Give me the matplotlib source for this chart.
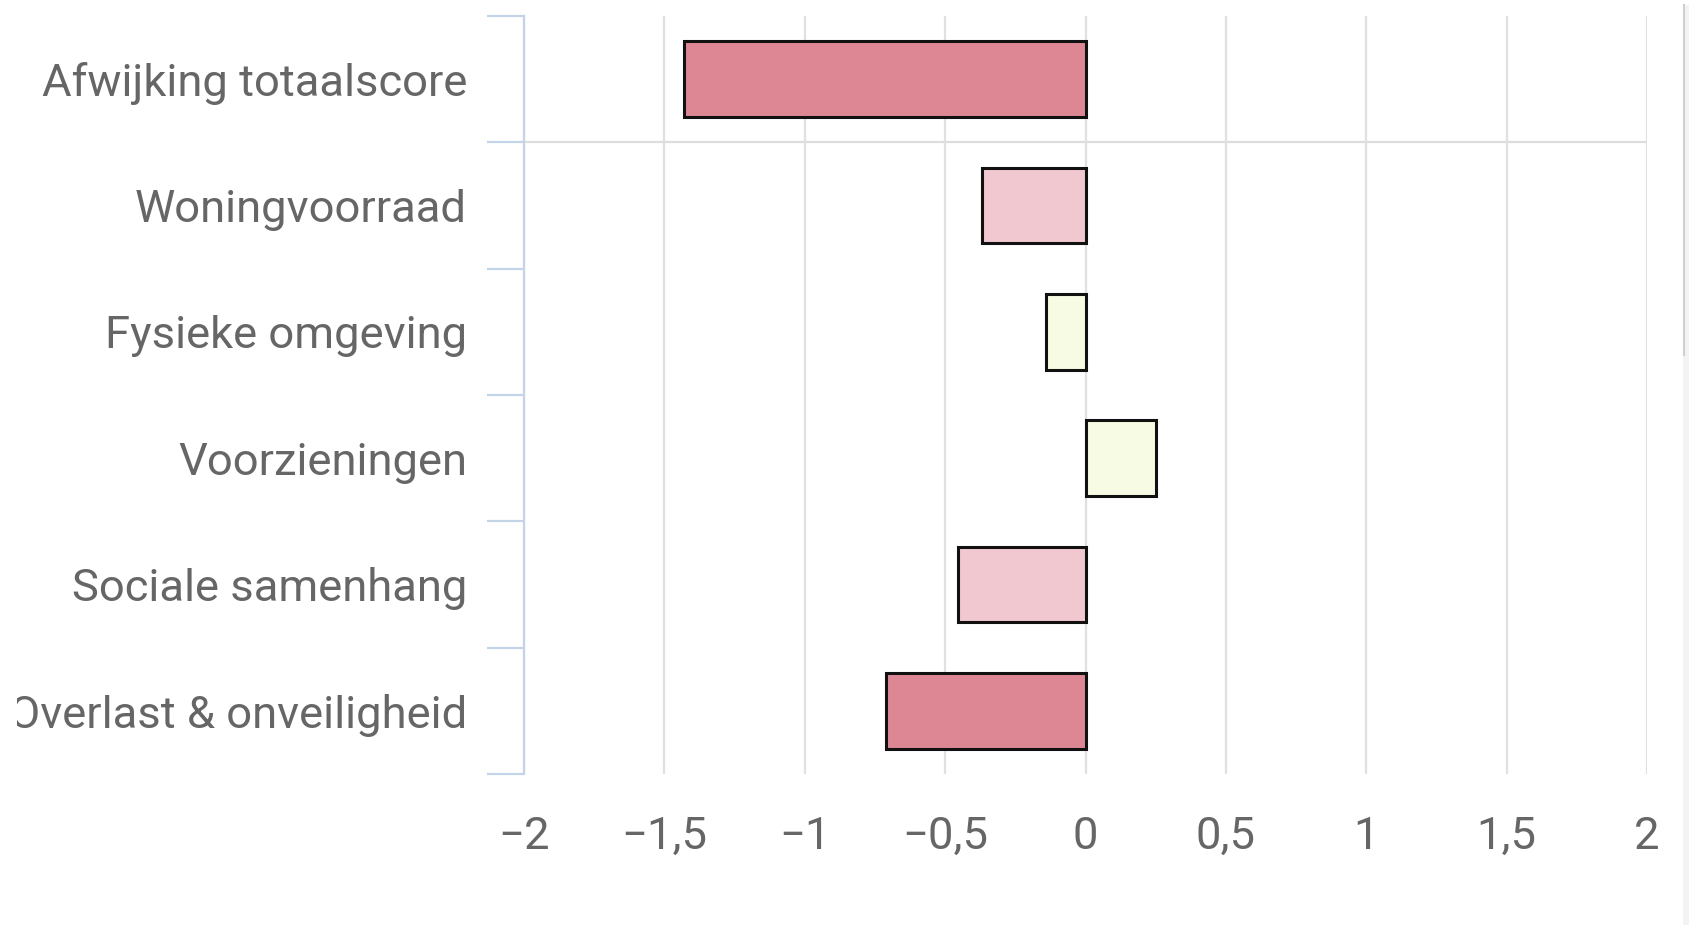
import matplotlib.pyplot as plt
from matplotlib.patches import Rectangle
from matplotlib.transforms import Bbox, TransformedBbox

# data
categories = ["Afwijking totaalscore", "Woningvoorraad", "Fysieke omgeving",
              "Voorzieningen", "Sociale samenhang", "Overlast & onveiligheid"]
values = [-1.43, -0.37, -0.14, 0.25, -0.455, -0.71]
bar_colors = ["#DD8795", "#F2C8D0", "#F7FBE3", "#F7FBE3", "#F2C8D0", "#DD8795"]
x_ticks = [-2, -1.5, -1, -0.5, 0, 0.5, 1, 1.5, 2]
x_labels = ["\u22122", "\u22121,5", "\u22121", "\u22120,5", "0", "0,5", "1", "1,5", "2"]

plt.rcParams['font.family'] = ['Roboto', 'DejaVu Sans']

fig = plt.figure(figsize=(16.9, 9.25), dpi=100)
ax = fig.add_axes([524 / 1690, 1 - 774 / 925, (1647 - 524) / 1690, (774 - 16) / 925])

y = list(range(len(categories)))
ax.barh(y, values, height=0.6, color=bar_colors, edgecolor="#111111",
        linewidth=2.2, zorder=3)

ax.set_xlim(-2, 2)
ax.set_ylim(len(categories) - 0.5, -0.5)

# vertical grid lines and the line under the total score
ax.set_xticks(x_ticks)
ax.set_xticklabels(x_labels)
ax.xaxis.grid(True, color="#E0E0E0", linewidth=1.6, zorder=0)
ax.hlines(0.5, -2, 2, color="#DDDDDD", linewidth=1.6, zorder=1)

# category labels centred, ticks between categories
ax.set_yticks([i - 0.5 for i in range(len(categories) + 1)])
ax.set_yticklabels([])
ax.set_yticks(y, minor=True)
ax.set_yticklabels(categories, minor=True)
ax.tick_params(axis="y", which="major", length=27, width=1.6, color="#C4D4E8",
               direction="out")
ax.tick_params(axis="y", which="minor", length=0, pad=41, labelsize=32.7,
               labelcolor="#666666")
ax.tick_params(axis="x", length=0, pad=30, labelsize=32.7, labelcolor="#666666")

for side in ["top", "right", "bottom"]:
    ax.spines[side].set_visible(False)
ax.spines["left"].set_color("#C4D4E8")
ax.spines["left"].set_linewidth(1.6)

# the long last label is cut off at the left in the reference
clip = TransformedBbox(Bbox([[17 / 1690, 0], [1, 1]]), fig.transFigure)
for lab in ax.get_yticklabels(minor=True):
    lab.set_clip_box(clip)
    lab.set_clip_on(True)

# scrollbar strip at the right edge
fig.patches.append(Rectangle((1683 / 1690, 0), 7 / 1690, 1 - 5 / 925,
                             transform=fig.transFigure, facecolor="#F3F3F3",
                             edgecolor="none"))
fig.lines.append(plt.Line2D([1684 / 1690, 1684 / 1690], [1 - 355 / 925, 1 - 5 / 925],
                            transform=fig.transFigure, color="#D0D0D0", linewidth=1.5))

fig.savefig("out.png", dpi=100)
